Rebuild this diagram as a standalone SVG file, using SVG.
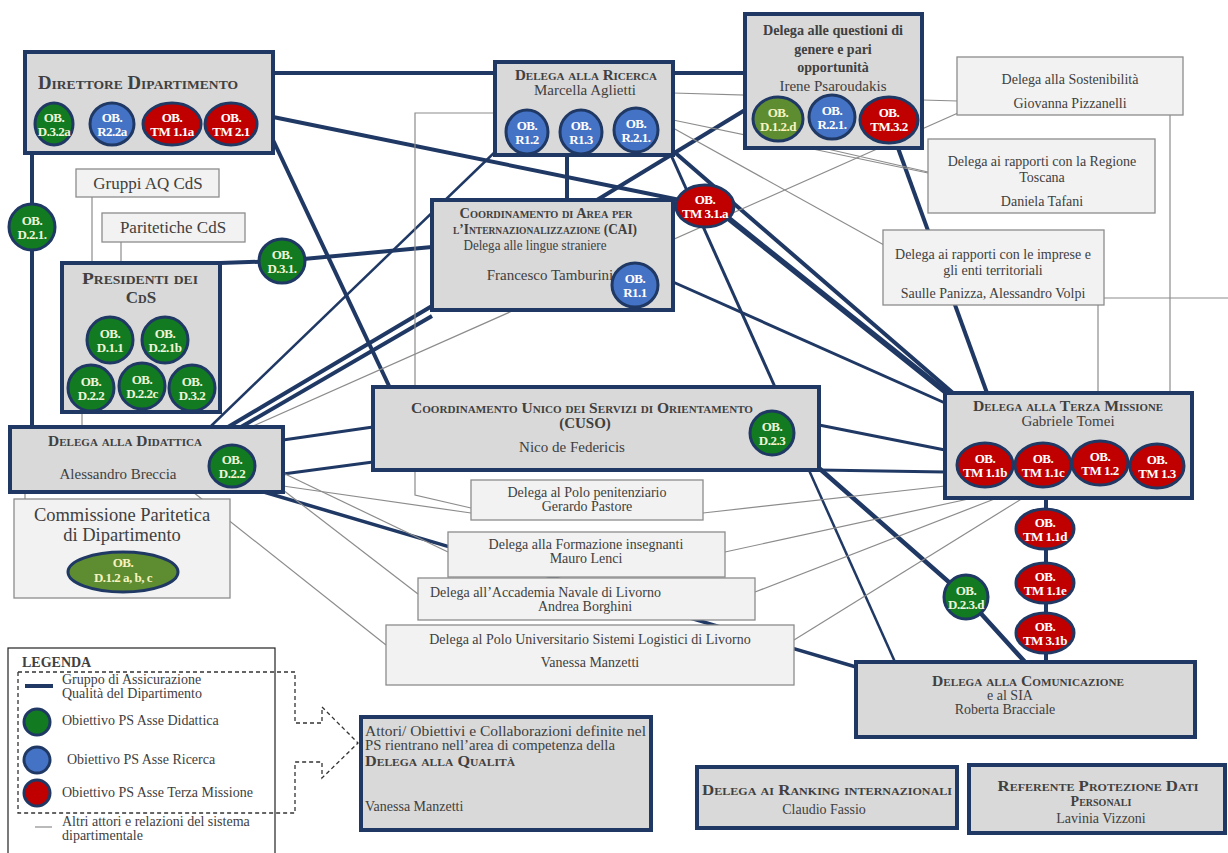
<svg xmlns="http://www.w3.org/2000/svg" width="1228" height="853" viewBox="0 0 1228 853">
<style>
.box{fill:#d9d9d9;stroke:#1f3864;stroke-width:4}
.tbox{fill:#f2f2f2;stroke:#8c8c8c;stroke-width:1.3}
.thick{stroke:#1f3864;stroke-width:4;fill:none}
.mid{stroke:#1f3864;stroke-width:3;fill:none}
.thin{stroke:#8c8c8c;stroke-width:1.2;fill:none}
.g{fill:#127a21;stroke:#1f3864;stroke-width:3}
.b{fill:#4472c4;stroke:#1f3864;stroke-width:3}
.r{fill:#c00000;stroke:#1f3864;stroke-width:3}
.o{fill:#5e8c31;stroke:#1f3864;stroke-width:3}
text{font-family:'Liberation Serif','Times New Roman',serif;fill:#404040}
.t{font-weight:bold;font-variant:small-caps;text-anchor:middle}
.n{font-size:14px;text-anchor:middle}
.s{font-size:14px;text-anchor:start}
.c{font-weight:bold;font-size:13px;fill:#ffffff;text-anchor:middle;letter-spacing:-0.5px}
.cg{font-weight:bold;font-size:13px;fill:#eef5d8;text-anchor:middle;letter-spacing:-0.5px}
.cy{font-weight:bold;font-size:13px;fill:#f6f3c0;text-anchor:middle;letter-spacing:-0.5px}
</style>
<rect x="0" y="0" width="1228" height="853" fill="#ffffff"/>
<g id="connectors">
<path class="thick" d="M273,73 H745"/>
<path class="thick" d="M273,117 L680,200"/>
<path class="thick" d="M273,140 L390,388"/>
<path class="thick" d="M32,153 V428"/>
<path class="thick" d="M220,263 L282,261 L432,247"/>
<path class="thick" d="M745,110 L597,200"/>
<path class="thick" d="M567,155 V200"/>
<path class="thick" d="M672,150 L953,393"/>
<path class="thick" d="M728,218 L947,393" style="stroke-width:5.5"/>
<path class="mid" d="M671,155 L775,387"/>
<path class="thick" d="M898,148 L987,393"/>
<path class="mid" d="M673,282 L945,403"/>
<path class="mid" d="M819,425 L945,450"/>
<path class="mid" d="M819,470 L945,472"/>
<path class="thick" d="M812,462 L966,597 L1025,662" style="stroke-width:4.5"/>
<path class="mid" d="M808,468 L895,662" style="stroke-width:2.5"/>
<path class="mid" d="M240,485 L856,667" style="stroke-width:3.5"/>
<path class="mid" d="M283,440 L373,427"/>
<path class="mid" d="M283,474 L373,462"/>
<path class="mid" d="M210,427 L497,150" style="stroke-width:2.5"/>
<path class="thick" d="M228,427 L432,306"/>
<path class="thick" d="M241,427 L432,316"/>
<path class="thin" d="M251,427 L958,113"/>
<path class="thin" d="M673,93 L958,101"/>
<path class="thin" d="M673,120 L928,173"/>
<path class="thin" d="M823,148 L928,172"/>
<path class="thin" d="M673,128 L893,250"/>
<path class="thin" d="M1170,115 V393"/>
<path class="thin" d="M1098,305 V393"/>
<path class="thin" d="M1104,298 H1228"/>
<path class="thin" d="M497,113 H415 V495 L471,508"/>
<path class="thin" d="M92,197 V263"/>
<path class="thin" d="M121,242 V263"/>
<path class="thin" d="M82,412 V427"/>
<path class="thin" d="M25,492 V499"/>
<path class="thin" d="M283,486 L471,513"/>
<path class="thin" d="M283,473 L448,552"/>
<path class="thin" d="M283,490 L418,594"/>
<path class="thin" d="M193,492 L386,645"/>
<path class="thin" d="M703,513 L945,486"/>
<path class="thin" d="M725,552 L973,498"/>
<path class="thin" d="M755,592 L997,498"/>
<path class="thin" d="M794,640 L1023,498"/>
<path class="thick" d="M1046,498 V662"/>
</g>
<g id="direttore">
<rect class="box" x="25" y="52" width="248" height="101"/>
<text class="t" x="138" y="89" font-size="18" textLength="200" lengthAdjust="spacingAndGlyphs">Direttore Dipartimento</text>
<ellipse class="g" cx="54" cy="124" rx="19" ry="21"/><text class="cg" x="54" y="122">OB.</text><text class="cg" x="54" y="136">D.3.2a</text>
<ellipse class="b" cx="112" cy="124" rx="22" ry="21"/><text class="c" x="112" y="122">OB.</text><text class="c" x="112" y="136">R2.2a</text>
<ellipse class="r" cx="172" cy="124" rx="29" ry="21"/><text class="c" x="172" y="122">OB.</text><text class="c" x="172" y="136">TM 1.1a</text>
<ellipse class="r" cx="231" cy="124" rx="26" ry="21"/><text class="c" x="231" y="122">OB.</text><text class="c" x="231" y="136">TM 2.1</text>
</g>
<g id="ricerca">
<rect class="box" x="495" y="62" width="178" height="93"/>
<text class="t" x="586" y="80" font-size="15" textLength="142" lengthAdjust="spacingAndGlyphs">Delega alla Ricerca</text>
<text class="n" x="585" y="95" style="font-size:15px">Marcella Aglietti</text>
<ellipse class="b" cx="527" cy="132" rx="21" ry="22"/><text class="c" x="527" y="130">OB.</text><text class="c" x="527" y="144">R1.2</text>
<ellipse class="b" cx="581" cy="132" rx="21" ry="22"/><text class="c" x="581" y="130">OB.</text><text class="c" x="581" y="144">R1.3</text>
<ellipse class="b" cx="636" cy="130" rx="22" ry="22"/><text class="c" x="636" y="128">OB.</text><text class="c" x="636" y="142">R.2.1.</text>
</g>
<g id="genere">
<rect class="box" x="745" y="14" width="177" height="134"/>
<text class="n" x="833" y="35" style="font-weight:bold" textLength="140" lengthAdjust="spacingAndGlyphs">Delega alle questioni di</text>
<text class="n" x="833" y="54" style="font-weight:bold">genere e pari</text>
<text class="n" x="833" y="72" style="font-weight:bold">opportunità</text>
<text class="n" x="833" y="91" style="font-size:15px">Irene Psaroudakis</text>
<ellipse class="o" cx="778" cy="119" rx="25" ry="22"/><text class="cy" x="778" y="117">OB.</text><text class="cy" x="778" y="131">D.1.2.d</text>
<ellipse class="b" cx="832" cy="117" rx="23" ry="22"/><text class="c" x="832" y="115">OB.</text><text class="c" x="832" y="129">R.2.1.</text>
<ellipse class="r" cx="889" cy="120" rx="29" ry="23"/><text class="c" x="889" y="117">OB.</text><text class="c" x="889" y="131">TM.3.2</text>
</g>
<g id="sostenibilita">
<rect class="tbox" x="957" y="57" width="226" height="58"/>
<text class="n" x="1070" y="84">Delega alla Sostenibilità</text>
<text class="n" x="1070" y="108">Giovanna Pizzanelli</text>
</g>
<g id="regione">
<rect class="tbox" x="928" y="139" width="227" height="74"/>
<text class="n" x="1042" y="166">Delega ai rapporti con la Regione</text>
<text class="n" x="1042" y="182">Toscana</text>
<text class="n" x="1042" y="206">Daniela Tafani</text>
</g>
<g id="imprese">
<rect class="tbox" x="883" y="230" width="221" height="75"/>
<text class="n" x="993" y="259">Delega ai rapporti con le imprese e</text>
<text class="n" x="993" y="275">gli enti territoriali</text>
<text class="n" x="993" y="298">Saulle Panizza, Alessandro Volpi</text>
</g>
<g id="gruppi-aq">
<rect class="tbox" x="76" y="169" width="143" height="28"/>
<text class="n" x="148" y="189" style="font-size:17px">Gruppi AQ CdS</text>
</g>
<g id="paritetiche">
<rect class="tbox" x="102" y="213" width="143" height="29"/>
<text class="n" x="173" y="233" style="font-size:17px">Paritetiche CdS</text>
</g>
<g id="presidenti">
<rect class="box" x="62" y="263" width="158" height="149"/>
<text class="t" x="140" y="284" font-size="17" textLength="116" lengthAdjust="spacingAndGlyphs">Presidenti dei</text>
<text class="t" x="141" y="303" font-size="17">CdS</text>
<ellipse class="g" cx="110" cy="340" rx="23" ry="23"/><text class="cg" x="110" y="338">OB.</text><text class="cg" x="110" y="352">D.1.1</text>
<ellipse class="g" cx="165" cy="340" rx="23" ry="23"/><text class="cg" x="165" y="338">OB.</text><text class="cg" x="165" y="352">D.2.1b</text>
<ellipse class="g" cx="91" cy="388" rx="23" ry="23"/><text class="cg" x="91" y="386">OB.</text><text class="cg" x="91" y="400">D.2.2</text>
<ellipse class="g" cx="142" cy="386" rx="23" ry="23"/><text class="cg" x="142" y="384">OB.</text><text class="cg" x="142" y="398">D.2.2c</text>
<ellipse class="g" cx="192" cy="388" rx="23" ry="23"/><text class="cg" x="192" y="386">OB.</text><text class="cg" x="192" y="400">D.3.2</text>
</g>
<g id="ob-d21">
<ellipse class="g" cx="32" cy="227" rx="23" ry="23"/><text class="cg" x="32" y="225">OB.</text><text class="cg" x="32" y="239">D.2.1.</text>
</g>
<g id="ob-d31">
<ellipse class="g" cx="282" cy="261" rx="23" ry="22"/><text class="cg" x="282" y="259">OB.</text><text class="cg" x="282" y="273">D.3.1.</text>
</g>
<g id="cai">
<rect class="box" x="432" y="200" width="241" height="110"/>
<text class="t" x="546" y="218" font-size="14" textLength="173" lengthAdjust="spacingAndGlyphs">Coordinamento di Area per</text>
<text class="t" x="545" y="234" font-size="14" textLength="184" lengthAdjust="spacingAndGlyphs">l’Internazionalizzazione (CAI)</text>
<text class="n" x="535" y="250" style="font-size:15px" textLength="143" lengthAdjust="spacingAndGlyphs">Delega alle lingue straniere</text>
<text class="n" x="550" y="280" style="font-size:15px">Francesco Tamburini</text>
<ellipse class="b" cx="635" cy="285" rx="23" ry="22"/><text class="c" x="635" y="283">OB.</text><text class="c" x="635" y="297">R1.1</text>
</g>
<g id="ob-tm31a">
<ellipse class="r" cx="705" cy="206" rx="29" ry="21"/><text class="c" x="705" y="204">OB.</text><text class="c" x="705" y="218">TM 3.1.a</text>
</g>
<g id="cuso">
<rect class="box" x="373" y="387" width="446" height="83"/>
<text class="t" x="582" y="413" font-size="14" textLength="342" lengthAdjust="spacingAndGlyphs">Coordinamento Unico dei Servizi di Orientamento</text>
<text class="t" x="585" y="428" font-size="15">(CUSO)</text>
<text class="n" x="572" y="452" style="font-size:15px">Nico de Federicis</text>
<ellipse class="g" cx="772" cy="433" rx="22" ry="22"/><text class="cg" x="772" y="431">OB.</text><text class="cg" x="772" y="445">D.2.3</text>
</g>
<g id="didattica">
<rect class="box" x="10" y="427" width="273" height="65"/>
<text class="t" x="125" y="446" font-size="14" textLength="154" lengthAdjust="spacingAndGlyphs">Delega alla Didattica</text>
<text class="n" x="118" y="479" style="font-size:15px">Alessandro Breccia</text>
<ellipse class="g" cx="232" cy="466" rx="23" ry="21"/><text class="cg" x="232" y="464">OB.</text><text class="cg" x="232" y="478">D.2.2</text>
</g>
<g id="commissione">
<rect class="tbox" x="14" y="499" width="216" height="99"/>
<text class="n" x="122" y="521" style="font-size:18.5px">Commissione Paritetica</text>
<text class="n" x="122" y="541" style="font-size:18.5px">di Dipartimento</text>
<ellipse class="o" cx="123" cy="572" rx="55" ry="20"/><text class="cy" x="123" y="567">OB.</text><text class="cy" x="123" y="582">D.1.2 a, b, c</text>
</g>
<g id="penitenziario">
<rect class="tbox" x="471" y="480" width="232" height="40"/>
<text class="n" x="587" y="497">Delega al Polo penitenziario</text>
<text class="n" x="587" y="511">Gerardo Pastore</text>
</g>
<g id="formazione">
<rect class="tbox" x="448" y="532" width="277" height="45"/>
<text class="n" x="586" y="549">Delega alla Formazione insegnanti</text>
<text class="n" x="586" y="563">Mauro Lenci</text>
</g>
<g id="accademia">
<rect class="tbox" x="418" y="578" width="337" height="42"/>
<text class="s" x="430" y="597">Delega all’Accademia Navale di Livorno</text>
<text class="n" x="585" y="611">Andrea Borghini</text>
</g>
<g id="polo-logistici">
<rect class="tbox" x="386" y="625" width="408" height="60"/>
<text class="n" x="590" y="644">Delega al Polo Universitario Sistemi Logistici di Livorno</text>
<text class="n" x="590" y="667">Vanessa Manzetti</text>
</g>
<g id="terza-missione">
<rect class="box" x="945" y="393" width="247" height="105"/>
<text class="t" x="1068" y="411" font-size="14.5" textLength="190" lengthAdjust="spacingAndGlyphs">Delega alla Terza Missione</text>
<text class="n" x="1068" y="426" style="font-size:15px">Gabriele Tomei</text>
<ellipse class="r" cx="985" cy="465" rx="28" ry="22"/><text class="c" x="985" y="463">OB.</text><text class="c" x="985" y="477">TM 1.1b</text>
<ellipse class="r" cx="1043" cy="465" rx="28" ry="22"/><text class="c" x="1043" y="463">OB.</text><text class="c" x="1043" y="477">TM 1.1c</text>
<ellipse class="r" cx="1100" cy="463" rx="28" ry="22"/><text class="c" x="1100" y="461">OB.</text><text class="c" x="1100" y="475">TM 1.2</text>
<ellipse class="r" cx="1157" cy="466" rx="27" ry="22"/><text class="c" x="1157" y="464">OB.</text><text class="c" x="1157" y="478">TM 1.3</text>
</g>
<g id="ob-tm11d">
<ellipse class="r" cx="1045" cy="529" rx="29" ry="20"/><text class="c" x="1045" y="527">OB.</text><text class="c" x="1045" y="541">TM 1.1d</text>
</g>
<g id="ob-tm11e">
<ellipse class="r" cx="1045" cy="583" rx="29" ry="20"/><text class="c" x="1045" y="581">OB.</text><text class="c" x="1045" y="595">TM 1.1e</text>
</g>
<g id="ob-tm31b">
<ellipse class="r" cx="1045" cy="633" rx="29" ry="20"/><text class="c" x="1045" y="631">OB.</text><text class="c" x="1045" y="645">TM 3.1b</text>
</g>
<g id="ob-d23d">
<ellipse class="g" cx="966" cy="597" rx="22" ry="22"/><text class="cg" x="966" y="595">OB.</text><text class="cg" x="966" y="609">D.2.3.d</text>
</g>
<g id="comunicazione">
<rect class="box" x="856" y="662" width="339" height="75"/>
<text class="t" x="1028" y="686" font-size="14" textLength="192" lengthAdjust="spacingAndGlyphs">Delega alla Comunicazione</text>
<text class="n" x="1010" y="700">e al SIA</text>
<text class="n" x="1005" y="714">Roberta Bracciale</text>
</g>
<g id="qualita">
<rect class="box" x="361" y="717" width="290" height="113"/>
<text class="s" x="365" y="736" textLength="281" lengthAdjust="spacingAndGlyphs">Attori/ Obiettivi e Collaborazioni definite nel</text>
<text class="s" x="365" y="750" textLength="250" lengthAdjust="spacingAndGlyphs">PS rientrano nell’area di competenza della</text>
<text class="t" x="365" y="766" font-size="14" style="text-anchor:start" textLength="150" lengthAdjust="spacingAndGlyphs">Delega alla Qualità</text>
<text class="s" x="365" y="811">Vanessa Manzetti</text>
</g>
<g id="ranking">
<rect class="box" x="697" y="767" width="260" height="61"/>
<text class="t" x="827" y="795" font-size="14" textLength="250" lengthAdjust="spacingAndGlyphs">Delega ai Ranking internazionali</text>
<text class="n" x="824" y="814">Claudio Fassio</text>
</g>
<g id="referente">
<rect class="box" x="969" y="765" width="256" height="68"/>
<text class="t" x="1098" y="791" font-size="14" textLength="201" lengthAdjust="spacingAndGlyphs">Referente Protezione Dati</text>
<text class="t" x="1101" y="806" font-size="14">Personali</text>
<text class="n" x="1101" y="823">Lavinia Vizzoni</text>
</g>
<g id="legenda">
<rect x="8" y="648" width="267" height="215" fill="#ffffff" stroke="#222222" stroke-width="1.2"/>
<text x="22" y="667" font-size="14" font-weight="bold">LEGENDA</text>
<path d="M25,686 H53" stroke="#1f3864" stroke-width="4"/>
<text class="s" x="62" y="684">Gruppo di Assicurazione</text>
<text class="s" x="62" y="698">Qualità del Dipartimento</text>
<circle class="g" cx="37" cy="722" r="13"/>
<text class="s" x="62" y="725">Obiettivo PS Asse Didattica</text>
<circle class="b" cx="37" cy="760" r="13"/>
<text class="s" x="67" y="764">Obiettivo PS Asse Ricerca</text>
<circle class="r" cx="37" cy="793" r="13"/>
<text class="s" x="62" y="797">Obiettivo PS Asse Terza Missione</text>
<path d="M35,827 H52" stroke="#8c8c8c" stroke-width="1.2"/>
<text class="s" x="62" y="826">Altri attori e relazioni del sistema</text>
<text class="s" x="62" y="840">dipartimentale</text>
<path d="M18,672 H295 V723 H322 V707 L358,743 L322,778 V762 H295 V813 H18 Z" fill="none" stroke="#333333" stroke-width="1.3" stroke-dasharray="4,3"/>
</g>
</svg>
